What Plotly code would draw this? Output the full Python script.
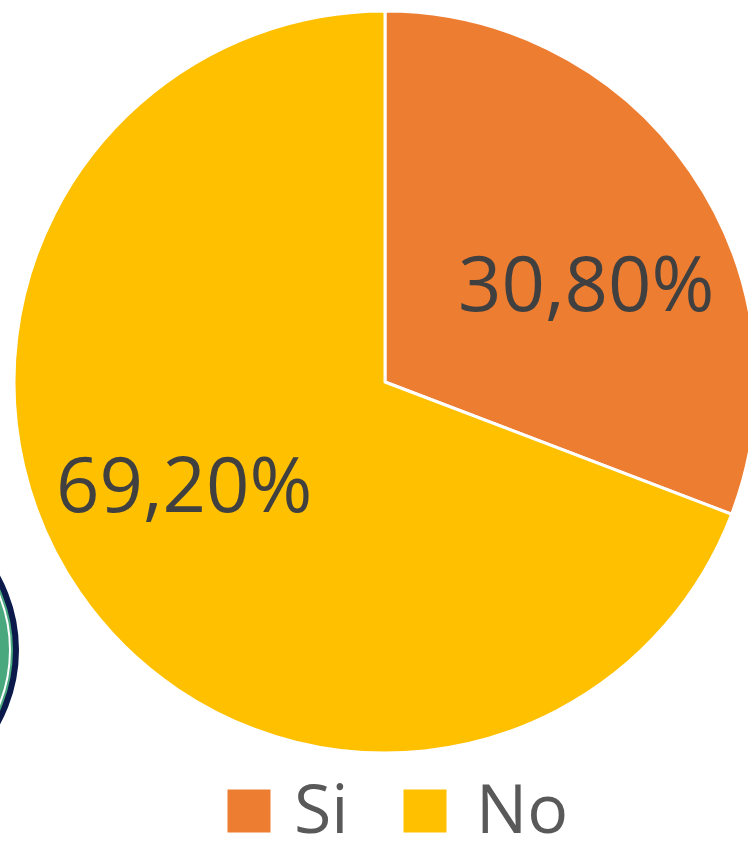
import math
import plotly.graph_objects as go

labels = ["Si", "No"]
values = [30.8, 69.2]
colors = ["#ED7D31", "#FFC000"]

W, H = 770, 841
CX, CY, R = 385, 382, 371          # pie centre / radius in pixels (layout)
LABEL_FRAC, LABEL_SHIFT = 0.605, 7.9  # label placement style

fig = go.Figure()
fig.add_trace(go.Pie(
    labels=labels,
    values=values,
    sort=False,
    direction="clockwise",
    rotation=0,
    marker=dict(colors=colors, line=dict(color="white", width=3)),
    textinfo="none",
    showlegend=False,
    hoverinfo="skip",
    domain=dict(x=[(CX - R) / W * 0 , 1], y=[(H - CY - R) / H, (H - CY + R) / H]),
))

# data labels, placed along each slice's mid-angle
total = sum(values)
cum = 0.0
for v in values:
    mid = (cum + v / 2) / total * 360 + LABEL_SHIFT
    cum += v
    px = CX + LABEL_FRAC * R * math.sin(math.radians(mid))
    py = CY - LABEL_FRAC * R * math.cos(math.radians(mid))
    fig.add_annotation(x=px / W, y=1 - py / H, xref="paper", yref="paper",
                       text=f"{v:.2f}%".replace(".", ","), showarrow=False,
                       xanchor="center", yanchor="middle",
                       font=dict(family="Open Sans", size=76, color="#404040"))

# legend drawn as annotations (coloured boxes + labels)
box_px = [249, 425]
text_px = [292, 474]
for lab, col, bx, tx in zip(labels, colors, box_px, text_px):
    fig.add_annotation(x=bx / W, y=1 - 811 / H, xref="paper", yref="paper",
                       text=" ", showarrow=False, width=42, height=42,
                       bgcolor=col, borderpad=0, xanchor="center", yanchor="middle")
    fig.add_annotation(x=tx / W, y=1 - 806 / H, xref="paper", yref="paper",
                       text=lab, showarrow=False, xanchor="left", yanchor="middle",
                       font=dict(family="Open Sans", size=68, color="#595959"))

# partial decorative circle at left edge
fig.add_shape(type="circle", xref="paper", yref="paper",
              x0=(-136 - 152) / W, x1=(-136 + 152) / W,
              y0=1 - (650 + 152) / H, y1=1 - (650 - 152) / H,
              line=dict(color="#0B1A4A", width=6), fillcolor="#4AA87F", layer="below")
fig.add_shape(type="circle", xref="paper", yref="paper",
              x0=(-136 - 146) / W, x1=(-136 + 146) / W,
              y0=1 - (650 + 146) / H, y1=1 - (650 - 146) / H,
              line=dict(color="white", width=2), fillcolor="rgba(0,0,0,0)", layer="below")

fig.update_layout(
    width=W, height=H,
    margin=dict(l=0, r=0, t=0, b=0),
    paper_bgcolor="white", plot_bgcolor="white",
    font=dict(family="Open Sans"),
)

fig.write_html("out.html", config={"displayModeBar": False}, post_script=(
    "document.body.style.margin='0';"
    "document.body.style.overflow='hidden';"
    "document.documentElement.style.overflow='hidden';"
))
